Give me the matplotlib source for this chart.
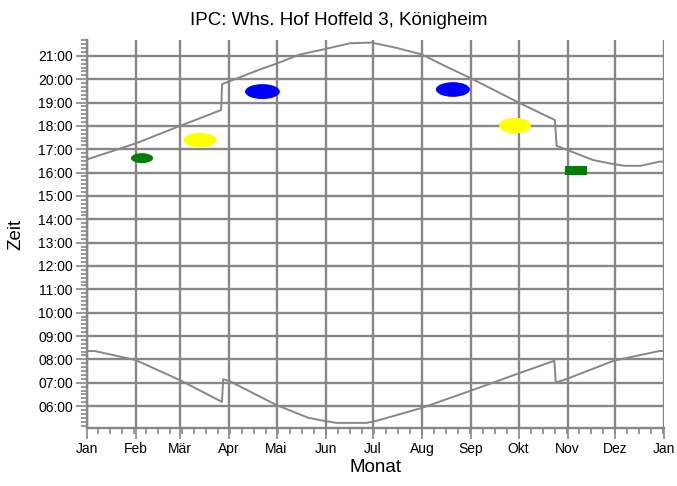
import numpy as np
import matplotlib
matplotlib.use('Agg')
import matplotlib.pyplot as plt
from matplotlib.patches import Ellipse, Rectangle

plt.rcParams['font.family'] = ['Liberation Sans', 'DejaVu Sans']

# month labels (day of year of month start)
months = ['Jan', 'Feb', 'Mär', 'Apr', 'Mai', 'Jun', 'Jul', 'Aug', 'Sep', 'Okt', 'Nov', 'Dez', 'Jan']
month_days = [0, 31, 59, 90, 120, 151, 181, 212, 243, 273, 304, 334, 365]

# sunset (upper line), day of year / hour
set_day = [0, 31, 59, 85, 85.6, 109.6, 120.1, 134.8, 150.6, 166.4, 180, 185.4, 196, 211.8, 227.6,
           242.3, 273.6, 296, 297, 320, 331, 340, 350, 362, 365]
set_hour = [16.56, 17.25, 18.0, 18.68, 19.79, 20.42, 20.67, 21.06, 21.29, 21.54, 21.57, 21.49, 21.34, 21.06, 20.53,
            20.06, 18.98, 18.25, 17.15, 16.54, 16.39, 16.29, 16.29, 16.47, 16.47]

# sunrise (lower line)
rise_day = [0, 5, 31, 59, 85.5, 86.3, 90, 120.1, 140, 150.6, 158, 177, 183.3, 211.8, 246.5, 273,
            295.6, 296.5, 303, 333, 362, 365]
rise_hour = [8.36, 8.36, 7.97, 7.11, 6.18, 7.15, 7.08, 6.04, 5.50, 5.36, 5.28, 5.28, 5.37, 5.92, 6.75, 7.40,
             7.94, 7.01, 7.15, 7.94, 8.36, 8.36]

# shadow periods: centre day, centre hour, width (days), height (hours), colour, shape
blob_day = [35.0, 71.8, 111.1, 231.5, 270.8, 309.3]
blob_hour = [16.62, 17.39, 19.47, 19.56, 18.01, 16.08]
blob_w = [14, 20.7, 22, 21.5, 20.2, 13.7]
blob_h = [0.43, 0.63, 0.64, 0.63, 0.67, 0.39]
blob_col = ['#008000', '#ffff00', '#0000ff', '#0000ff', '#ffff00', '#008000']
blob_kind = ['e', 'e', 'e', 'e', 'e', 'r']

hours = list(range(6, 22))
hour_labels = ['%02d:00' % h for h in hours]

grey = '#878787'

fig = plt.figure(figsize=(6.77, 4.86), dpi=100)
ax = fig.add_axes([0.128, 0.1193, 0.853, 0.7984])

# grid
for d in month_days:
    ax.axvline(d, color=grey, lw=1.7, zorder=1)
for h in hours:
    ax.axhline(h, color=grey, lw=1.7, zorder=1)

ax.plot(set_day, set_hour, color=grey, lw=1.4, zorder=2)
ax.plot(rise_day, rise_hour, color=grey, lw=1.4, zorder=2)

for d, h, w, hh, c, k in zip(blob_day, blob_hour, blob_w, blob_h, blob_col, blob_kind):
    if k == 'e':
        ax.add_patch(Ellipse((d, h), w, hh, color=c, zorder=3, lw=0))
    else:
        ax.add_patch(Rectangle((d - w / 2, h - hh / 2), w, hh, color=c, zorder=3, lw=0))

ax.set_xticks(month_days)
ax.set_xticklabels(months, fontsize=10)
ax.set_xticks(np.arange(7, 365, 7.6), minor=True)
ax.set_yticks(hours)
ax.set_yticklabels(hour_labels, fontsize=10)
ax.set_yticks(np.arange(310, 1301, 10) / 60.0, minor=True)

ax.set_xlim(0, 365)
ax.set_ylim(5.06, 21.68)

ax.tick_params(which='major', direction='out', length=8, width=1.2, color=grey, pad=2)
ax.tick_params(which='minor', direction='out', length=4, width=1.2, color=grey)

for s in ['top', 'right']:
    ax.spines[s].set_visible(False)
for s in ['left', 'bottom']:
    ax.spines[s].set_color(grey)
    ax.spines[s].set_linewidth(1.7)

ax.set_xlabel('Monat', fontsize=13.5, labelpad=2)
ax.set_ylabel('Zeit', fontsize=13.5, labelpad=10)
fig.suptitle('IPC: Whs. Hof Hoffeld 3, Königheim', fontsize=13.5, x=0.5, y=0.975)

fig.savefig('out.png', dpi=100)
